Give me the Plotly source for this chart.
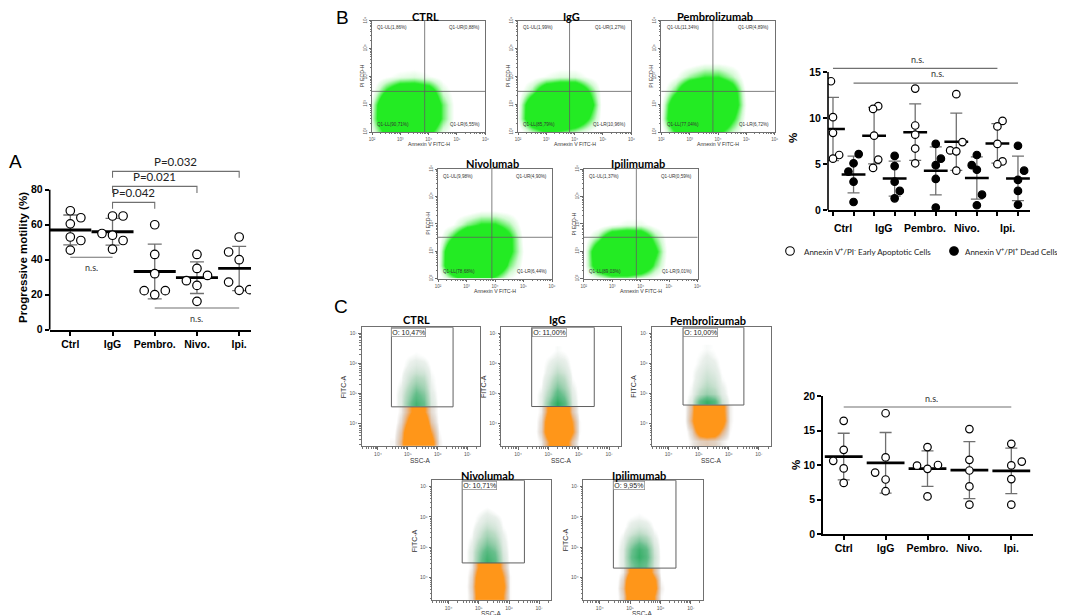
import numpy as np
import plotly.graph_objects as go

W, H = 1065, 615

# ---------------- Panel A : progressive motility ----------------
a_groups = ["Ctrl", "IgG", "Pembro.", "Nivo.", "Ipi."]
a_ctrl = [68, 64, 60.5, 53, 51, 45.5]
a_igg = [65, 65, 55, 54, 51, 46]
a_pembro = [60, 43, 32, 22.3, 20, 22.3]
a_nivo = [43, 35, 31, 28, 25.3, 16.2]
a_ipi = [53, 44.4, 40, 27.2, 22.5, 22.9]
a_yticks = [0, 20, 40, 60, 80]
a_p_labels = ["P=0.042", "P=0.021", "P=0.032"]
a_p_targets = [2, 3, 4]
a_p_levels = [72.8, 81.9, 90.5]
a_ns = [(0, 1, 41.4), (2, 4, 12.4)]

# ---------------- Panel B : Annexin V / PI ----------------
b_groups = ["Ctrl", "IgG", "Pembro.", "Nivo.", "Ipi."]
b_early_ctrl = [14.0, 10.1, 8.4, 6.0, 5.6]
b_early_igg = [11.3, 11.0, 8.1, 5.5, 4.6]
b_early_pembro = [13.2, 9.2, 8.2, 6.7, 5.1]
b_early_nivo = [12.6, 7.4, 6.5, 6.4, 4.3]
b_early_ipi = [9.7, 9.1, 7.2, 5.3, 5.0]
b_dead_ctrl = [6.1, 5.1, 4.2, 3.1, 0.9]
b_dead_igg = [5.9, 4.8, 3.1, 2.1, 1.3]
b_dead_pembro = [7.2, 5.6, 4.9, 3.4, 0.3]
b_dead_nivo = [6.0, 4.9, 4.4, 1.7, 0.55]
b_dead_ipi = [7.0, 4.3, 3.3, 2.1, 0.6]
b_yticks = [0, 5, 10, 15]
b_ns = [(0, 8, 15.4), (1, 9, 13.8)]
b_legend = ["Annexin V<sup>+</sup>/PI<sup>-</sup> Early Apoptotic Cells",
            "Annexin V<sup>+</sup>/PI<sup>+</sup> Dead Cells"]

b_flow_names = ["CTRL", "IgG", "Pembrolizumab", "Nivolumab", "Ipilimumab"]
b_q_ul = ["1,86%", "1,99%", "11,34%", "9,98%", "1,37%"]
b_q_ur = ["0,88%", "1,27%", "4,89%", "4,90%", "0,59%"]
b_q_ll = ["90,71%", "85,79%", "77,04%", "78,68%", "89,03%"]
b_q_lr = ["6,55%", "10,96%", "6,72%", "6,44%", "9,01%"]
b_gate_x = [3.86, 3.82, 3.82, 3.89, 3.85]
b_gate_y = [3.46, 3.46, 3.46, 3.51, 3.51]
b_dens_x = [2.0, 2.5, 3.0, 3.5, 4.0, 4.5, 5.0]
b_dens_y = [2.0, 2.5, 3.0, 3.5, 4.0, 4.5]
b_dens_ctrl = [[0.3, 1.5, 2.5, 2.5, 1.5, 0.4, 0.0],
               [0.6, 2.5, 3.0, 3.0, 2.5, 1.0, 0.0],
               [0.5, 2.5, 3.0, 3.0, 2.5, 1.0, 0.0],
               [0.1, 1.3, 2.2, 2.2, 1.8, 0.5, 0.0],
               [0.0, 0.2, 0.4, 0.5, 0.3, 0.1, 0.0],
               [0.0, 0.0, 0.0, 0.0, 0.0, 0.0, 0.0]]
b_dens_igg = [[0.0, 0.6, 1.2, 1.0, 0.6, 0.2, 0.0],
              [0.3, 2.2, 3.0, 3.0, 2.5, 1.2, 0.0],
              [0.2, 2.2, 3.0, 3.0, 3.0, 1.8, 0.0],
              [0.0, 0.8, 2.2, 2.5, 2.5, 1.2, 0.0],
              [0.0, 0.1, 0.3, 0.5, 0.5, 0.2, 0.0],
              [0.0, 0.0, 0.0, 0.0, 0.0, 0.0, 0.0]]
b_dens_pembro = [[0.0, 1.2, 2.0, 2.0, 1.4, 0.6, 0.0],
                 [0.3, 2.5, 3.0, 3.0, 2.8, 1.4, 0.1],
                 [0.2, 2.2, 3.0, 3.0, 3.0, 2.0, 0.2],
                 [0.0, 1.0, 2.6, 3.0, 2.8, 1.8, 0.1],
                 [0.0, 0.2, 0.8, 1.2, 1.2, 0.7, 0.0],
                 [0.0, 0.0, 0.0, 0.2, 0.2, 0.1, 0.0]]
b_dens_nivo = [[0.0, 0.8, 1.8, 1.6, 1.0, 0.3, 0.0],
               [0.2, 2.5, 3.0, 3.0, 2.5, 1.0, 0.1],
               [0.1, 2.5, 3.0, 3.0, 2.8, 1.5, 0.2],
               [0.0, 1.2, 2.6, 2.8, 2.6, 1.5, 0.1],
               [0.0, 0.2, 0.9, 1.3, 1.3, 0.8, 0.0],
               [0.0, 0.0, 0.0, 0.2, 0.2, 0.1, 0.0]]
b_dens_ipi = [[0.0, 0.4, 0.8, 0.8, 0.5, 0.2, 0.0],
              [0.1, 2.0, 3.0, 3.0, 2.5, 1.0, 0.0],
              [0.1, 2.2, 3.0, 3.0, 3.0, 1.5, 0.0],
              [0.0, 0.8, 2.2, 2.4, 2.2, 0.9, 0.0],
              [0.0, 0.0, 0.2, 0.4, 0.4, 0.1, 0.0],
              [0.0, 0.0, 0.0, 0.0, 0.0, 0.0, 0.0]]

# ---------------- Panel C : FITC gating ----------------
c_groups = ["Ctrl", "IgG", "Pembro.", "Nivo.", "Ipi."]
c_ctrl = [16.4, 12.2, 10.6, 9.5, 7.4]
c_igg = [17.5, 11.1, 8.9, 7.9, 6.2]
c_pembro = [12.6, 10.0, 9.9, 9.45, 5.45]
c_nivo = [15.2, 10.75, 9.2, 6.9, 4.25]
c_ipi = [13.07, 10.5, 9.94, 7.96, 4.25]
c_yticks = [0, 5, 10, 15, 20]
c_ns = [(0, 4, 18.4)]

c_flow_names = ["CTRL", "IgG", "Pembrolizumab", "Nivolumab", "Ipilimumab"]
c_gate_pct = ["O: 10,47%", "O: 11,00%", "O: 10,00%", "O: 10,71%", "O: 9,95%"]
c_gate_x0 = [4.45, 4.45, 4.48, 4.45, 4.45]
c_gate_x1 = [6.51, 6.51, 6.5, 6.51, 6.51]
c_gate_y0 = [4.56, 4.57, 4.62, 4.48, 4.31]
c_dens_x = [4.525, 4.775, 5.025, 5.275, 5.525, 5.775, 6.025, 6.275]
c_orange_ctrl = [[0.2, 1.0, 2.8, 3.0, 3.0, 2.0, 0.3, 0.0],
                 [0.1, 0.8, 2.6, 3.0, 3.0, 1.4, 0.2, 0.0],
                 [0.0, 0.5, 1.8, 3.0, 2.5, 0.8, 0.1, 0.0],
                 [0.0, 0.3, 1.2, 2.0, 1.6, 0.5, 0.1, 0.0]]
c_orange_igg = [[0.0, 0.3, 1.5, 2.5, 2.2, 0.8, 0.1, 0.0],
                [0.0, 0.6, 2.6, 3.0, 3.0, 1.6, 0.2, 0.0],
                [0.0, 0.5, 2.5, 3.0, 3.0, 1.4, 0.2, 0.0],
                [0.0, 0.3, 1.8, 3.0, 2.6, 0.8, 0.1, 0.0]]
c_orange_pembro = [[0.0, 0.3, 0.6, 0.7, 0.6, 0.3, 0.1, 0.0],
                   [0.0, 0.6, 2.2, 2.6, 2.4, 1.2, 0.2, 0.0],
                   [0.1, 1.2, 3.0, 3.0, 3.0, 2.2, 0.3, 0.0],
                   [0.1, 1.0, 3.0, 3.0, 3.0, 2.0, 0.3, 0.0]]
c_orange_nivo = [[0.0, 0.5, 2.5, 3.0, 3.0, 1.5, 0.2, 0.0],
                 [0.0, 0.6, 2.8, 3.0, 3.0, 1.8, 0.2, 0.0],
                 [0.0, 0.5, 2.5, 3.0, 3.0, 1.5, 0.2, 0.0],
                 [0.0, 0.3, 1.8, 2.6, 2.4, 1.0, 0.1, 0.0]]
c_orange_ipi = [[0.0, 0.6, 2.6, 3.0, 3.0, 1.5, 0.2, 0.0],
                [0.0, 0.8, 3.0, 3.0, 3.0, 2.0, 0.3, 0.0],
                [0.0, 0.6, 2.8, 3.0, 3.0, 1.8, 0.2, 0.0],
                [0.0, 0.3, 1.8, 2.8, 2.5, 1.0, 0.1, 0.0]]
c_green_ctrl = [[0, 0.3, 1.5, 2.5, 1.8, 0.4, 0, 0],
                [0, 0.3, 1.2, 2.0, 1.5, 0.3, 0, 0],
                [0, 0.2, 0.9, 1.5, 1.1, 0.2, 0, 0],
                [0, 0.1, 0.6, 1.0, 0.8, 0.15, 0, 0],
                [0, 0.05, 0.4, 0.6, 0.5, 0.1, 0, 0],
                [0, 0, 0.2, 0.35, 0.25, 0.05, 0, 0],
                [0, 0, 0.1, 0.15, 0.1, 0, 0, 0],
                [0, 0, 0, 0.05, 0, 0, 0, 0]]
c_green_igg = [[0, 0.2, 1.5, 3.0, 2.2, 0.4, 0, 0],
               [0, 0.2, 1.0, 2.2, 1.6, 0.3, 0, 0],
               [0, 0.1, 0.7, 1.6, 1.1, 0.2, 0, 0],
               [0, 0.05, 0.5, 1.1, 0.8, 0.1, 0, 0],
               [0, 0, 0.3, 0.7, 0.5, 0.05, 0, 0],
               [0, 0, 0.2, 0.45, 0.3, 0, 0, 0],
               [0, 0, 0.1, 0.2, 0.15, 0, 0, 0],
               [0, 0, 0, 0.1, 0.05, 0, 0, 0]]
c_green_pembro = [[0, 0.3, 2.0, 2.8, 2.2, 0.6, 0.05, 0],
                  [0, 0.15, 0.8, 1.2, 0.9, 0.3, 0, 0],
                  [0, 0.1, 0.5, 0.8, 0.6, 0.2, 0, 0],
                  [0, 0.05, 0.35, 0.6, 0.45, 0.1, 0, 0],
                  [0, 0.05, 0.25, 0.45, 0.3, 0.05, 0, 0],
                  [0, 0, 0.15, 0.3, 0.2, 0, 0, 0],
                  [0, 0, 0.1, 0.2, 0.1, 0, 0, 0],
                  [0, 0, 0.05, 0.1, 0.05, 0, 0, 0]]
c_green_nivo = [[0, 0.3, 1.6, 2.6, 2.0, 0.5, 0, 0],
                [0, 0.3, 1.4, 2.2, 1.7, 0.4, 0, 0],
                [0, 0.2, 1.0, 1.6, 1.2, 0.3, 0, 0],
                [0, 0.1, 0.6, 1.1, 0.8, 0.2, 0, 0],
                [0, 0.05, 0.4, 0.7, 0.5, 0.1, 0, 0],
                [0, 0, 0.2, 0.4, 0.3, 0.05, 0, 0],
                [0, 0, 0.1, 0.2, 0.1, 0, 0, 0],
                [0, 0, 0, 0.05, 0, 0, 0, 0]]
c_green_ipi = [[0, 0.3, 1.5, 2.2, 1.8, 0.5, 0, 0],
               [0, 0.3, 1.8, 2.8, 2.2, 0.6, 0, 0],
               [0, 0.3, 1.6, 2.6, 2.0, 0.5, 0, 0],
               [0, 0.2, 1.0, 1.6, 1.2, 0.3, 0, 0],
               [0, 0.1, 0.5, 0.8, 0.6, 0.15, 0, 0],
               [0, 0, 0.25, 0.4, 0.3, 0.05, 0, 0],
               [0, 0, 0.1, 0.15, 0.1, 0, 0, 0],
               [0, 0, 0, 0.05, 0, 0, 0, 0]]

# ---------------- layout / style (positions in pixels) ----------------
a_jit = [[0, .25, 0, 0, .25, 0], [0, .25, -.25, 0, .25, 0], [0, 0, 0, -.25, 0, .25],
         [0, 0, .25, -.25, 0, 0], [0, -.25, 0, -.25, 0, .25]]
b_early_jit = [[-.1, 0, 0, .3, 0], [.2, -.05, 0, .2, -.05], [0, 0, 0, 0, 0],
               [0, .3, -.3, 0, 0], [.25, 0, 0, .25, 0]]
b_dead_jit = [[.25, 0, -.25, 0, 0], [0, 0, 0, .25, 0], [0, .25, 0, 0, 0],
              [0, -.25, 0, .25, 0], [0, .3, 0, 0, 0]]
c_jit = [[0, 0, -.25, 0, 0], [0, 0, -.25, 0, 0], [0, .25, -.25, 0, 0], [0, 0, 0, 0, 0], [0, .25, 0, 0, 0]]

b_frames = [(364, 477.3, 12.7, 124), (510, 623.3, 12.7, 124), (653.3, 766.7, 12.7, 124),
            (430, 544, 161, 270.7), (575.7, 689.5, 161, 270.7)]
b_title_y = [8, 8, 8, 155.5, 155.5]
c_frames = [(353.5, 471.7, 319.3, 438.3), (493.3, 613.3, 319.3, 438.3), (644, 763, 319.3, 438.3),
            (424, 543.3, 472.3, 592.3), (575, 695, 472.3, 592.3)]
c_title_y = [311, 311, 312, 467, 467]
c_ssc_off = [14, 14, 14, 13, 13]
B_XR, B_YR = [2, 6], [2, 6]
C_XR, C_YR = [3.45, 7.4], [3.25, 7.2]

fig = go.Figure()
lay = dict(width=W, height=H, margin=dict(l=0, r=0, t=0, b=0), template='none',
           paper_bgcolor='white', plot_bgcolor='rgba(0,0,0,0)', showlegend=False)
shapes, annos = [], []


def fx(px):
    return px / W


def fy(py):
    return 1 - py / H


def keys(n):
    s = '' if n == 1 else str(n)
    return 'x' + s, 'y' + s, 'xaxis' + s, 'yaxis' + s


BOLD = dict(family='Liberation Sans', size=10.5, color='black', weight='bold')


def note(x, y, text, size, xref='paper', yref='paper', xanchor='center', yanchor='middle',
         bold=False, family='Lato', color='black', angle=0, **kw):
    f = dict(family=family, size=size, color=color)
    if bold:
        f['weight'] = 'bold'
    annos.append(dict(x=x, y=y, xref=xref, yref=yref, text=text, showarrow=False, font=f,
                      xanchor=xanchor, yanchor=yanchor, textangle=angle, **kw))


def dot_axes(n, xpx, ypx, xr, yr, xtv, xtt, ytv, yline_top=None, showxlabels=True):
    xk, yk, xa, ya = keys(n)
    common = dict(linecolor='black', linewidth=1.6, ticks='outside', ticklen=4, tickwidth=1.5,
                  tickcolor='black', tickfont=BOLD, showgrid=False, zeroline=False)
    lay[xa] = dict(common, domain=[fx(xpx[0]), fx(xpx[1])], range=xr, anchor=yk, showline=True,
                   tickvals=xtv, ticktext=xtt, showticklabels=showxlabels)
    lay[ya] = dict(common, domain=[fy(ypx[1]), fy(ypx[0])], range=yr, anchor=xk,
                   showline=yline_top is None, tickvals=ytv)
    if yline_top is not None:
        shapes.append(dict(type='line', xref=xk + ' domain', yref=yk, x0=0, x1=0, y0=yr[0],
                           y1=yline_top, line=dict(color='black', width=1.6)))


def add_group(n, xc, vals, jit, fill, msize, mlen, mwidth, cap):
    xk, yk, _, _ = keys(n)
    v = np.asarray(vals, float)
    fig.add_trace(go.Scatter(x=[xc], y=[v.mean()], mode='markers', xaxis=xk, yaxis=yk, hoverinfo='skip',
                             marker=dict(symbol='line-ew', size=mlen, color='black',
                                         line=dict(color='black', width=mwidth)),
                             error_y=dict(type='data', array=[v.std(ddof=1)], color='#707070',
                                          thickness=1.3, width=cap)))
    fig.add_trace(go.Scatter(x=xc + np.asarray(jit), y=v, mode='markers', xaxis=xk, yaxis=yk,
                             hoverinfo='skip',
                             marker=dict(symbol='circle', size=msize, color=fill,
                                         line=dict(color='black', width=1.2))))


def bracket_line(n, xs, ys, color='#707070'):
    xk, yk, _, _ = keys(n)
    fig.add_trace(go.Scatter(x=xs, y=ys, mode='lines', xaxis=xk, yaxis=yk, hoverinfo='skip',
                             line=dict(color=color, width=1.1)))


# ===== Panel A =====
dot_axes(1, (41.7, 243), (155.5, 321.7), [-0.488, 4.28], [0, 95], list(range(5)), a_groups,
         a_yticks, yline_top=80)
for i, vals in enumerate([a_ctrl, a_igg, a_pembro, a_nivo, a_ipi]):
    add_group(1, i, vals, a_jit[i], 'white', 8.5, 30, 2.8, 7)
for lab, t, lev in zip(a_p_labels, a_p_targets, a_p_levels):
    bracket_line(1, [1, 1, t, t], [lev - 3.7, lev, lev, lev - 3.7])
    note((1 + t) / 2, lev + 0.6, lab, 11.5, xref='x', yref='y', yanchor='bottom', color='#222')
for g0, g1, lev in a_ns:
    bracket_line(1, [g0, g1], [lev, lev])
    note((g0 + g1) / 2, lev - 1.5, 'n.s.', 9, xref='x', yref='y', yanchor='top', color='#333')
note(fx(15), fy(250), 'Progressive motility (%)', 11.5, angle=-90, bold=True, family='Liberation Sans')
note(fx(7), fy(153), 'A', 19, family='Liberation Sans')

# ===== Panel B dot plot =====
dot_axes(2, (820, 1022), (50.2, 202.3), [-0.243, 9.586], [0, 16.5], list(range(10)), None,
         b_yticks, yline_top=15, showxlabels=False)
for g, (ev, dv) in enumerate(zip([b_early_ctrl, b_early_igg, b_early_pembro, b_early_nivo, b_early_ipi],
                                 [b_dead_ctrl, b_dead_igg, b_dead_pembro, b_dead_nivo, b_dead_ipi])):
    add_group(2, 2 * g, ev, b_early_jit[g], 'white', 7.5, 17, 2.5, 6)
    add_group(2, 2 * g + 1, dv, b_dead_jit[g], 'black', 7.5, 17, 2.5, 6)
    note(2 * g + 0.5, fy(220), b_groups[g], 10.5, xref='x2', bold=True, family='Liberation Sans')
for g0, g1, lev in b_ns:
    bracket_line(2, [g0, g1], [lev, lev])
    note((g0 + g1) / 2 + 0.1, lev + 0.2, 'n.s.', 9, xref='x2', yref='y2', yanchor='bottom', color='#333')
note(fx(785), fy(130), '%', 11.5, angle=-90, bold=True, family='Liberation Sans')
# legend
shapes.append(dict(type='circle', xref='paper', yref='paper', xsizemode='pixel', ysizemode='pixel',
                   xanchor=fx(782), yanchor=fy(243), x0=-4.3, x1=4.3, y0=-4.3, y1=4.3,
                   line=dict(color='black', width=1.1), fillcolor='white'))
note(fx(925), fy(243), b_legend[0], 8, xanchor='right', color='#222')
shapes.append(dict(type='circle', xref='paper', yref='paper', xsizemode='pixel', ysizemode='pixel',
                   xanchor=fx(946), yanchor=fy(243), x0=-4.3, x1=4.3, y0=-4.3, y1=4.3,
                   line=dict(color='black', width=1.1), fillcolor='black'))
note(fx(955), fy(243), b_legend[1], 8, xanchor='left', color='#222')

# ===== Panel C dot plot =====
dot_axes(3, (815, 1025), (388, 526), [-0.494, 4.518], [0, 20], list(range(5)), c_groups, c_yticks)
for i, vals in enumerate([c_ctrl, c_igg, c_pembro, c_nivo, c_ipi]):
    add_group(3, i, vals, c_jit[i], 'white', 7.5, 27, 2.8, 6)
for g0, g1, lev in c_ns:
    bracket_line(3, [g0, g1], [lev, lev])
    note((g0 + g1) / 2 + 0.1, lev + 0.2, 'n.s.', 9, xref='x3', yref='y3', yanchor='bottom', color='#333')
note(fx(788), fy(457), '%', 11.5, angle=-90, bold=True, family='Liberation Sans')

# ===== flow cytometry plots =====
GREEN_B = [[0, 'rgba(40,230,40,0)'], [0.08, 'rgba(40,230,40,0)'], [0.2, 'rgba(60,230,60,0.22)'],
           [0.36, 'rgba(45,235,45,0.8)'], [0.42, 'rgb(35,235,35)'], [1, 'rgb(35,235,35)']]
ORANGE = [[0, 'rgba(150,125,100,0)'], [0.05, 'rgba(150,125,100,0)'], [0.12, 'rgba(150,125,100,0.2)'],
          [0.32, 'rgba(215,140,70,0.6)'], [0.5, 'rgb(255,150,25)'], [1, 'rgb(255,150,25)']]
GREEN_C = [[0, 'rgba(120,160,130,0)'], [0.02, 'rgba(120,160,130,0)'], [0.06, 'rgba(120,160,130,0.16)'],
           [0.25, 'rgba(70,160,100,0.38)'], [0.6, 'rgba(30,160,85,0.68)'], [1, 'rgba(15,160,75,0.88)']]
SUP = {2: '10²', 3: '10³', 4: '10⁴', 5: '10⁵', 6: '10⁶', 7: '10⁷'}


def flow_axes(n, frame, xr, yr, tv, yangle, tsize):
    xk, yk, xa, ya = keys(n)
    x0, x1, y0, y1 = frame
    minor_vals = [d + np.log10(k) for d in range(1, 9) for k in range(2, 10)]
    base = dict(showline=True, mirror=True, linecolor='#707070', linewidth=0.8, ticks='outside',
                ticklen=2.5, tickwidth=0.7, tickcolor='#666',
                tickfont=dict(family='Liberation Sans', size=tsize, color='#555'),
                showgrid=False, zeroline=False, tickvals=tv, ticktext=[SUP[t] for t in tv],
                minor=dict(tickmode='array', tickvals=minor_vals, ticklen=1.3, tickwidth=0.5,
                           tickcolor='#777', ticks='outside', showgrid=False))
    lay[xa] = dict(base, domain=[fx(x0), fx(x1)], range=xr, anchor=yk)
    lay[ya] = dict(base, domain=[fy(y1), fy(y0)], range=yr, anchor=xk, tickangle=yangle)
    return xk, yk


for i in range(5):
    n = 4 + i
    fr = b_frames[i]
    xk, yk = flow_axes(n, fr, B_XR, B_YR, [2, 3, 4, 5, 6], -90, 4.5)
    dens = [b_dens_ctrl, b_dens_igg, b_dens_pembro, b_dens_nivo, b_dens_ipi][i]
    fig.add_trace(go.Heatmap(x=b_dens_x, y=b_dens_y, z=dens, zmin=0, zmax=3, zsmooth='best',
                             colorscale=GREEN_B, showscale=False, xaxis=xk, yaxis=yk, hoverinfo='skip'))
    shapes.append(dict(type='line', xref=xk, yref=yk + ' domain', x0=b_gate_x[i], x1=b_gate_x[i],
                       y0=0, y1=1, line=dict(color='#606060', width=0.8)))
    shapes.append(dict(type='line', xref=xk + ' domain', yref=yk, x0=0, x1=1, y0=b_gate_y[i],
                       y1=b_gate_y[i], line=dict(color='#606060', width=0.8)))
    qf = 4.6
    note(0.03, 0.975, 'Q1-UL(%s)' % b_q_ul[i], qf, xref=xk + ' domain', yref=yk + ' domain',
         xanchor='left', yanchor='top', family='Liberation Sans', color='#333')
    note(0.97, 0.975, 'Q1-UR(%s)' % b_q_ur[i], qf, xref=xk + ' domain', yref=yk + ' domain',
         xanchor='right', yanchor='top', family='Liberation Sans', color='#333')
    note(0.03, 0.025, 'Q1-LL(%s)' % b_q_ll[i], qf, xref=xk + ' domain', yref=yk + ' domain',
         xanchor='left', yanchor='bottom', family='Liberation Sans', color='#333')
    note(0.97, 0.025, 'Q1-LR(%s)' % b_q_lr[i], qf, xref=xk + ' domain', yref=yk + ' domain',
         xanchor='right', yanchor='bottom', family='Liberation Sans', color='#333')
    note(fx((fr[0] + fr[1]) / 2 - 3), fy(b_title_y[i]), b_flow_names[i], 11, bold=True)
    note(fx((fr[0] + fr[1]) / 2), fy(fr[3] + 12), 'Annexin V FITC-H', 5.2, family='Liberation Sans',
         color='#333')
    note(fx(fr[0] - 10), fy((fr[2] + fr[3]) / 2), 'PI ECD-H', 5.2, angle=-90, family='Liberation Sans',
         color='#333')

for i in range(5):
    n = 9 + i
    fr = c_frames[i]
    xk, yk = flow_axes(n, fr, C_XR, C_YR, [4, 5, 6, 7], 0, 5)
    gy = c_gate_y0[i]
    orange = [c_orange_ctrl, c_orange_igg, c_orange_pembro, c_orange_nivo, c_orange_ipi][i]
    green = [c_green_ctrl, c_green_igg, c_green_pembro, c_green_nivo, c_green_ipi][i]
    fig.add_trace(go.Heatmap(x=c_dens_x, y=np.linspace(C_YR[0], gy, len(orange) + 1), z=orange,
                             zmin=0, zmax=3, zsmooth='best', colorscale=ORANGE, showscale=False,
                             xaxis=xk, yaxis=yk, hoverinfo='skip'))
    fig.add_trace(go.Heatmap(x=c_dens_x, y=np.linspace(gy, gy + 2.0, len(green) + 1), z=green,
                             zmin=0, zmax=3, zsmooth='best', colorscale=GREEN_C, showscale=False,
                             xaxis=xk, yaxis=yk, hoverinfo='skip'))
    shapes.append(dict(type='rect', xref=xk, yref=yk, x0=c_gate_x0[i], x1=c_gate_x1[i], y0=gy,
                       y1=C_YR[1], line=dict(color='#606060', width=1)))
    note(c_gate_x0[i], 0.995, c_gate_pct[i], 7, xref=xk, yref=yk + ' domain', xanchor='left',
         yanchor='top', family='Liberation Sans', color='#222', bgcolor='white',
         bordercolor='#888', borderwidth=0.7, borderpad=0.5)
    note(fx((fr[0] + fr[1]) / 2 - 4), fy(c_title_y[i]), c_flow_names[i], 11, bold=True)
    note(fx((fr[0] + fr[1]) / 2), fy(fr[3] + c_ssc_off[i]), 'SSC-A', 6.5, family='Liberation Sans',
         color='#333')
    note(fx(fr[0] - 18), fy((fr[2] + fr[3]) / 2), 'FITC-A', 7, angle=-90, family='Liberation Sans',
         color='#333')

note(fx(334), fy(10), 'B', 19, family='Liberation Sans')
note(fx(333), fy(298), 'C', 19, family='Liberation Sans')

lay['shapes'] = shapes
lay['annotations'] = annos
fig.update_layout(**lay)
fig.write_html("out.html")
